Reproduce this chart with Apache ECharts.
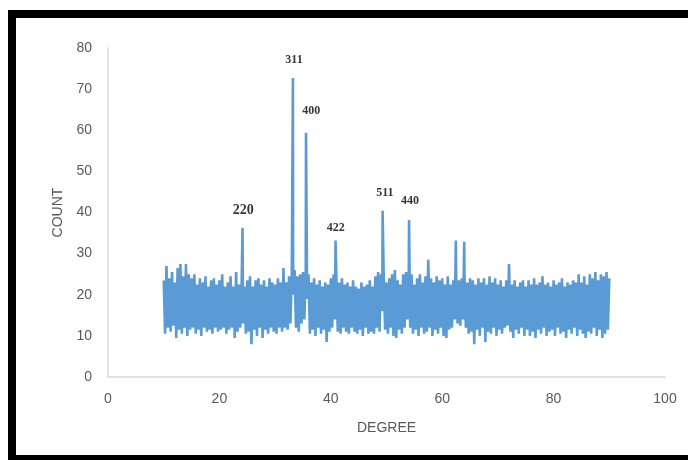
<!DOCTYPE html>
<html>
<head>
<meta charset="utf-8">
<script src="https://cdn.jsdelivr.net/npm/echarts@6/dist/echarts.min.js"></script>
<style>
    html, body { margin: 0; padding: 0; background: #fff; }
    #chart { width: 688px; height: 460px; }
</style>
</head>
<body>
<div id="chart"></div>
<script>
// background noise, upper points every 0.5 degree from 10 to 90
var noiseHigh = [
    23.5, 27, 24, 25.5, 23, 26.5, 27.5, 24.5, 27.5, 25,
    24, 25, 22.5, 24, 23, 24.5, 22, 23.5, 24, 22.5,
    23.5, 25, 22, 23, 24.5, 22, 25.5, 22.5, 23, 22,
    23.5, 24.5, 22, 23.5, 24, 22.5, 23.5, 22, 24, 23,
    22.5, 24, 23, 26.5, 23, 24.5, 25.5, 26, 24.5, 25,
    25.5, 26, 25, 23, 24, 22.5, 23.5, 22, 23, 22.5,
    24, 25, 24.5, 23, 24, 22.5, 23, 22, 23.5, 22,
    21.5, 23, 22, 22.5, 23.5, 22, 24.5, 25.5, 25, 24.5,
    23, 24, 25, 26, 23.5, 22.5, 25, 25.5, 26, 25,
    22.5, 24, 25, 23, 24.5, 28.5, 24, 23, 24.5, 23.5,
    24, 22.5, 24.5, 22.5, 23.5, 25, 23.5, 24, 25, 23,
    24, 23.5, 22.5, 24, 23, 24, 22.5, 24.5, 23, 24,
    22.5, 23.5, 22, 23.5, 27.5, 22.5, 23.5, 22, 23, 23.5,
    22, 23.5, 22.5, 24, 22.5, 23, 24.5, 22.5, 23, 22,
    23.5, 22.5, 23, 24, 22, 23, 22.5, 23.5, 23, 25,
    23, 24.5, 22.5, 25, 24, 25.5, 23.5, 25, 24.5, 25.5,
    24
];
// background noise, lower points every 0.5 degree from 10.25 to 89.75
var noiseLow = [
    10.5, 12, 11, 12.5, 9.5, 11.5, 10.5, 12, 10, 11.5,
    12, 10.5, 11.5, 10, 12, 11, 11.5, 10.5, 12, 11,
    11.5, 12, 10.5, 11.5, 12, 9.5, 11, 12, 13, 10.5,
    11, 8, 11.5, 10, 12, 9.5, 11.5, 10.5, 12, 11,
    10.5, 12, 11, 12, 11.5, 13, 20, 12, 11, 13,
    14, 19, 10.5, 11.5, 10, 12, 10.5, 11.5, 8.5, 11,
    12, 14, 11, 10.5, 12, 11, 10.5, 12, 11, 10.5,
    11.5, 10, 12, 10.5, 11, 10.5, 12, 11, 16, 11.5,
    10.5, 12, 10, 9.5, 11.5, 10.5, 12, 14, 12, 10.5,
    11.5, 10, 12, 10.5, 11, 12, 10, 11.5, 10.5, 12,
    10, 9.5, 11.5, 12, 14, 13, 12.5, 14, 12, 10.5,
    11, 8, 11.5, 10, 12, 8.5, 11, 10.5, 12, 10,
    11.5, 10.5, 12, 12.5, 11, 9.5, 11.5, 10.5, 12, 10,
    11.5, 10, 11, 9.5, 11.5, 10.5, 12, 10, 11, 11.5,
    10, 12, 10.5, 11, 9.5, 11.5, 10.5, 12, 10, 11.5,
    10.5, 9.5, 11, 10.5, 12, 10, 11.5, 9.5, 10.5, 11.5
];
// diffraction peaks
var peakDeg = [24.15, 33.2, 35.55, 40.85, 49.3, 54.05, 62.45, 63.95];
var peakCount = [36.3, 72.7, 59.4, 33.2, 40.4, 38.2, 33.2, 32.9];
// peak index labels
var hklNames = ['220', '311', '400', '422', '511', '440'];
var hklDeg = [24.3, 33.4, 36.5, 40.9, 49.7, 54.2];
var hklCount = [40.4, 77.0, 64.7, 36.2, 44.8, 42.7];

var pts = [];
for (var i = 0; i < noiseHigh.length; i++) {
    pts.push([10 + 0.5 * i, noiseHigh[i]]);
    if (i < noiseLow.length) pts.push([10.25 + 0.5 * i, noiseLow[i]]);
}
for (var j = 0; j < peakDeg.length; j++) {
    pts.push([peakDeg[j], peakCount[j]]);
}
pts.sort(function (a, b) { return a[0] - b[0]; });

var labelData = hklNames.map(function (n, k) {
    return {
        name: n,
        value: [hklDeg[k], hklCount[k]],
        label: { fontSize: n === '220' ? 14 : 12 }
    };
});

var axisFont = { color: '#595959', fontSize: 14, fontFamily: 'Liberation Sans Narrow, Liberation Sans, sans-serif' };

var chart = echarts.init(document.getElementById('chart'), null, { renderer: 'canvas' });
chart.setOption({
    animation: false,
    backgroundColor: '#fff',
    grid: { left: 108, right: 23, top: 48, bottom: 83 },
    graphic: [{
        type: 'rect',
        shape: { x: 12, y: 14, width: 700, height: 445 },
        style: { fill: 'none', stroke: '#000', lineWidth: 8 },
        silent: true
    }],
    xAxis: {
        type: 'value',
        min: 0, max: 100, interval: 20,
        name: 'DEGREE',
        nameLocation: 'middle',
        nameGap: 44,
        nameTextStyle: axisFont,
        axisLine: { lineStyle: { color: '#d9d9d9', width: 1.5 } },
        axisTick: { show: false },
        splitLine: { show: false },
        axisLabel: Object.assign({ margin: 15 }, axisFont)
    },
    yAxis: {
        type: 'value',
        min: 0, max: 80, interval: 10,
        name: 'COUNT',
        nameLocation: 'middle',
        nameGap: 43,
        nameTextStyle: axisFont,
        axisLine: { show: true, lineStyle: { color: '#d9d9d9', width: 1.5 } },
        axisTick: { show: false },
        splitLine: { show: false },
        axisLabel: Object.assign({ margin: 16 }, axisFont)
    },
    series: [
        {
            type: 'line',
            data: pts,
            showSymbol: false,
            symbol: 'none',
            sampling: null,
            lineStyle: { color: '#5b9bd5', width: 2.6, join: 'bevel' },
            z: 2
        },
        {
            type: 'scatter',
            data: labelData,
            symbolSize: 1,
            itemStyle: { color: 'transparent' },
            label: {
                show: true,
                position: 'inside',
                formatter: '{b}',
                color: '#000',
                fontWeight: 'bold',
                fontFamily: 'Liberation Serif, serif'
            },
            z: 3
        }
    ]
});
</script>
</body>
</html>
